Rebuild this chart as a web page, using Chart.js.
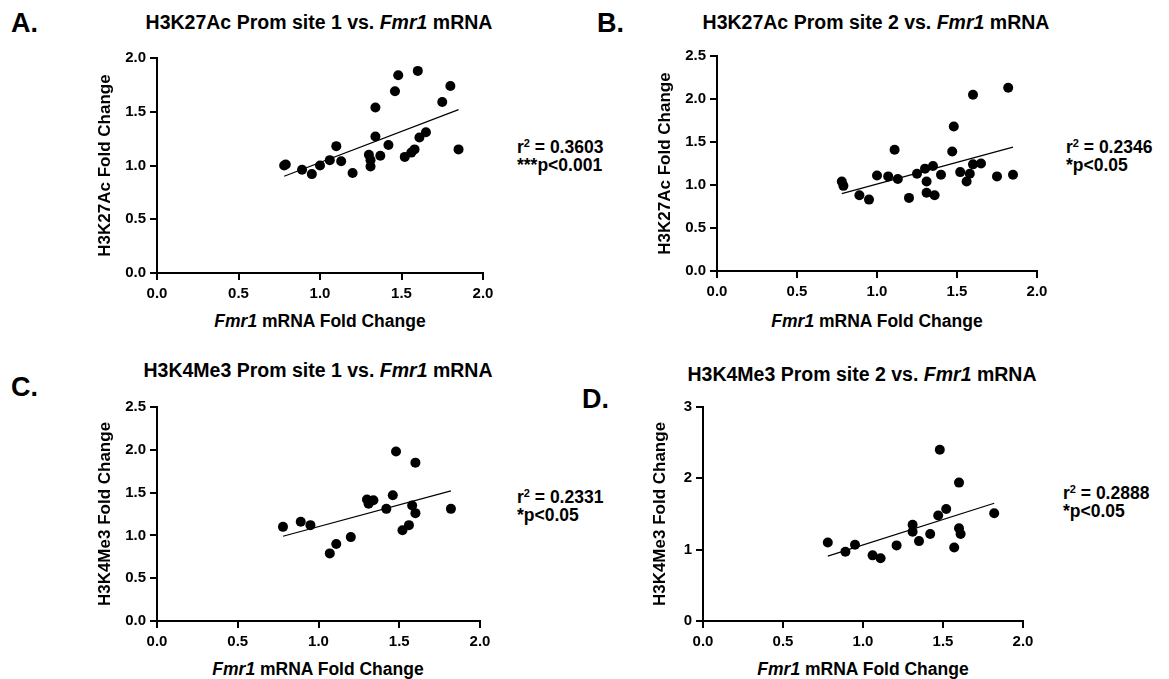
<!DOCTYPE html>
<html>
<head>
<meta charset="utf-8">
<script src="https://cdn.jsdelivr.net/npm/chart.js@4.4.1/dist/chart.umd.min.js"></script>
<style>
  body { margin: 0; background: #fff; }
  #page { position: relative; width: 1169px; height: 679px; overflow: hidden; font-family: Arial, "Liberation Sans", sans-serif; color: #000; }
  .lbl { position: absolute; font-weight: bold; white-space: nowrap; line-height: 1; }
  .ctr { transform: translate(-50%, -50%); }
  .lft { transform: translateY(-50%); }
  .letter { font-size: 27px; }
  .title { font-size: 19.5px; }
  .xtitle { font-size: 17.5px; }
  .stat { font-size: 17.5px; line-height: 1; }
  .stat sup { font-size: 11px; }
  canvas { position: absolute; }
</style>
</head>
<body>
<div id="page">
  <div class="lbl letter lft" style="left:11px; top:23px;">A.</div>
  <div class="lbl title ctr" style="left:319px; top:23px;">H3K27Ac Prom site 1 vs. <i>Fmr1</i> mRNA</div>
  <div class="lbl xtitle ctr" style="left:320px; top:322px;"><i>Fmr1</i> mRNA Fold Change</div>
  <div class="lbl stat lft" style="left:517px; top:156px;">r<sup>2</sup> = 0.3603<br>***p&lt;0.001</div>

  <div class="lbl letter lft" style="left:597px; top:23px;">B.</div>
  <div class="lbl title ctr" style="left:876px; top:23px;">H3K27Ac Prom site 2 vs. <i>Fmr1</i> mRNA</div>
  <div class="lbl xtitle ctr" style="left:877px; top:322px;"><i>Fmr1</i> mRNA Fold Change</div>
  <div class="lbl stat lft" style="left:1066px; top:156px;">r<sup>2</sup> = 0.2346<br>*p&lt;0.05</div>

  <div class="lbl letter lft" style="left:11px; top:387px;">C.</div>
  <div class="lbl title ctr" style="left:318px; top:371px;">H3K4Me3 Prom site 1 vs. <i>Fmr1</i> mRNA</div>
  <div class="lbl xtitle ctr" style="left:318px; top:670px;"><i>Fmr1</i> mRNA Fold Change</div>
  <div class="lbl stat lft" style="left:517px; top:506px;">r<sup>2</sup> = 0.2331<br>*p&lt;0.05</div>

  <div class="lbl letter lft" style="left:582px; top:399px;">D.</div>
  <div class="lbl title ctr" style="left:862px; top:375px;">H3K4Me3 Prom site 2 vs. <i>Fmr1</i> mRNA</div>
  <div class="lbl xtitle ctr" style="left:863px; top:670px;"><i>Fmr1</i> mRNA Fold Change</div>
  <div class="lbl stat lft" style="left:1063px; top:502px;">r<sup>2</sup> = 0.2888<br>*p&lt;0.05</div>
</div>
<script>
// tick values
const xTicks = [0, 0.5, 1.0, 1.5, 2.0];
const yTicksA = [0, 0.5, 1.0, 1.5, 2.0];
const yTicksBC = [0, 0.5, 1.0, 1.5, 2.0, 2.5];
const yTicksD = [0, 1, 2, 3];

// A: H3K27Ac prom site 1
const aX = [0.78, 0.79, 0.89, 0.95, 1.00, 1.06, 1.10, 1.13, 1.20, 1.30, 1.31, 1.31, 1.34, 1.34, 1.37, 1.42, 1.46, 1.48, 1.52, 1.56, 1.58, 1.60, 1.61, 1.65, 1.75, 1.80, 1.85];
const aY = [1.00, 1.01, 0.96, 0.92, 1.00, 1.05, 1.18, 1.04, 0.93, 1.10, 1.05, 0.99, 1.27, 1.54, 1.09, 1.19, 1.69, 1.84, 1.08, 1.12, 1.15, 1.88, 1.26, 1.31, 1.59, 1.74, 1.15];
const aFitX = [0.78, 1.85];
const aFitY = [0.90, 1.52];

// B: H3K27Ac prom site 2
const bX = [0.78, 0.79, 0.89, 0.95, 1.00, 1.07, 1.11, 1.13, 1.20, 1.25, 1.30, 1.31, 1.31, 1.35, 1.36, 1.40, 1.47, 1.48, 1.52, 1.56, 1.58, 1.60, 1.60, 1.65, 1.75, 1.82, 1.85];
const bY = [1.04, 0.99, 0.88, 0.83, 1.11, 1.10, 1.41, 1.07, 0.85, 1.13, 1.19, 1.04, 0.91, 1.22, 0.88, 1.12, 1.39, 1.68, 1.15, 1.04, 1.13, 2.05, 1.24, 1.25, 1.10, 2.13, 1.12];
const bFitX = [0.78, 1.85];
const bFitY = [0.90, 1.44];

// C: H3K4Me3 prom site 1
const cX = [0.78, 0.89, 0.95, 1.07, 1.11, 1.20, 1.30, 1.31, 1.34, 1.42, 1.46, 1.48, 1.52, 1.56, 1.58, 1.60, 1.60, 1.82];
const cY = [1.10, 1.16, 1.12, 0.79, 0.90, 0.98, 1.42, 1.37, 1.41, 1.31, 1.47, 1.98, 1.06, 1.12, 1.35, 1.85, 1.26, 1.31];
const cFitX = [0.78, 1.82];
const cFitY = [0.99, 1.52];

// D: H3K4Me3 prom site 2
const dX = [0.78, 0.89, 0.95, 1.06, 1.11, 1.21, 1.31, 1.31, 1.35, 1.42, 1.47, 1.48, 1.52, 1.57, 1.60, 1.60, 1.61, 1.82];
const dY = [1.10, 0.97, 1.07, 0.92, 0.88, 1.06, 1.35, 1.25, 1.12, 1.22, 1.48, 2.40, 1.57, 1.03, 1.94, 1.30, 1.22, 1.51];
const dFitX = [0.78, 1.82];
const dFitY = [0.91, 1.65];

const FONT = 'Arial, "Liberation Sans", sans-serif';
const page = document.getElementById('page');

function pts(xs, ys) {
    return xs.map((x, i) => ({ x: x, y: ys[i] }));
}

// box = chart area in page pixels, yw = width of y axis block
function makePanel(box, yw, xs, ys, fitX, fitY, yTicks, yTitle, yDigits) {
    const padTop = 15, padRight = 25, xh = 40;
    const canvas = document.createElement('canvas');
    const w = yw + (box.r - box.l) + padRight;
    const h = padTop + (box.b - box.t) + xh;
    canvas.width = w;
    canvas.height = h;
    canvas.style.left = (box.l - yw) + 'px';
    canvas.style.top = (box.t - padTop) + 'px';
    canvas.style.width = w + 'px';
    canvas.style.height = h + 'px';
    page.appendChild(canvas);

    const axisGrid = { display: true, drawOnChartArea: false, drawTicks: true, tickLength: 7, color: '#000', lineWidth: 2 };
    new Chart(canvas.getContext('2d'), {
        type: 'scatter',
        data: {
            datasets: [{
                data: pts(xs, ys),
                backgroundColor: '#000',
                borderWidth: 0,
                pointRadius: 5,
                pointHoverRadius: 5
            }, {
                data: pts(fitX, fitY),
                showLine: true,
                borderColor: '#000',
                borderWidth: 1.2,
                pointRadius: 0
            }]
        },
        options: {
            responsive: false,
            animation: false,
            layout: { padding: { top: padTop, right: padRight, left: 0, bottom: 0 } },
            plugins: { legend: { display: false }, tooltip: { enabled: false } },
            scales: {
                x: {
                    type: 'linear',
                    min: xTicks[0],
                    max: xTicks[xTicks.length - 1],
                    afterBuildTicks: s => { s.ticks = xTicks.map(v => ({ value: v })); },
                    afterFit: s => { s.height = xh; },
                    ticks: {
                        color: '#000',
                        padding: 5,
                        font: { family: FONT, size: 15, weight: 'bold' },
                        callback: v => v.toFixed(1)
                    },
                    grid: axisGrid,
                    border: { color: '#000', width: 2 }
                },
                y: {
                    type: 'linear',
                    min: yTicks[0],
                    max: yTicks[yTicks.length - 1],
                    afterBuildTicks: s => { s.ticks = yTicks.map(v => ({ value: v })); },
                    afterFit: s => { s.width = yw; },
                    ticks: {
                        color: '#000',
                        padding: 4,
                        font: { family: FONT, size: 15, weight: 'bold' },
                        callback: v => v.toFixed(yDigits)
                    },
                    grid: axisGrid,
                    border: { color: '#000', width: 2 },
                    title: {
                        display: true,
                        text: yTitle,
                        color: '#000',
                        padding: { top: 0, bottom: 0 },
                        font: { family: FONT, size: 17, weight: 'bold' }
                    }
                }
            }
        }
    });
}

makePanel({ l: 157, r: 483, t: 58, b: 273 }, 62, aX, aY, aFitX, aFitY, yTicksA, 'H3K27Ac Fold Change', 1);
makePanel({ l: 717, r: 1037, t: 56, b: 271 }, 62, bX, bY, bFitX, bFitY, yTicksBC, 'H3K27Ac Fold Change', 1);
makePanel({ l: 157, r: 480, t: 407, b: 621 }, 62, cX, cY, cFitX, cFitY, yTicksBC, 'H3K4Me3 Fold Change', 1);
makePanel({ l: 703, r: 1023, t: 407, b: 621 }, 53, dX, dY, dFitX, dFitY, yTicksD, 'H3K4Me3 Fold Change', 0);
</script>
</body>
</html>
